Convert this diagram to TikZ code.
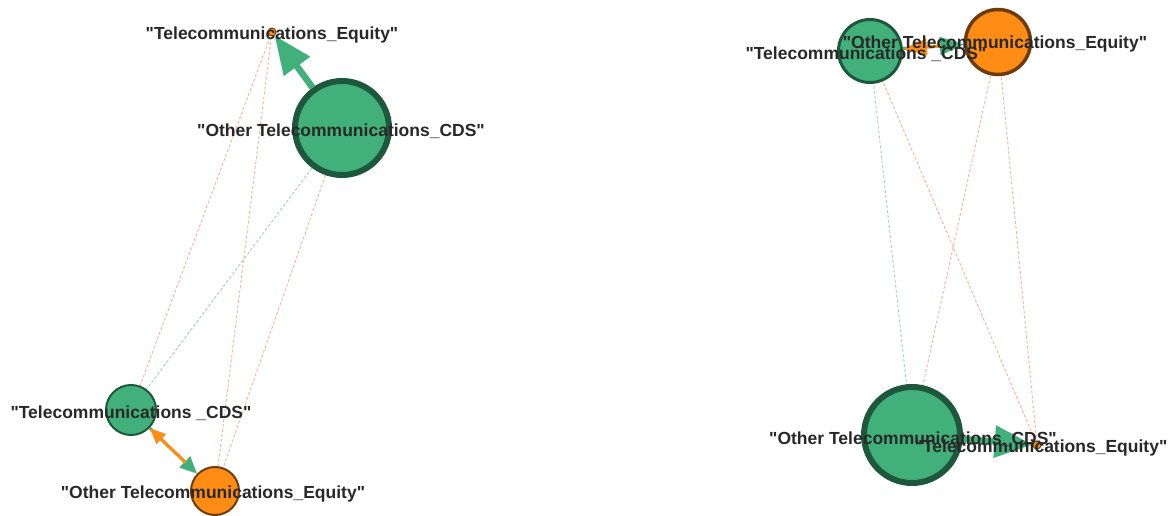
\documentclass[tikz,border=0pt]{standalone}
\usepackage{fontspec}
\setmainfont{Liberation Sans}[Ligatures=TeXOff]
\usetikzlibrary{arrows.meta}
\pgfdeclarelayer{paper}
\pgfdeclarelayer{edges}
\pgfsetlayers{paper,edges,main}
\definecolor{cdsfill}{RGB}{66,176,122}
\definecolor{cdsline}{RGB}{30,88,60}
\definecolor{eqfill}{RGB}{255,140,20}
\definecolor{eqline}{RGB}{110,60,10}
\definecolor{eqdash}{RGB}{248,178,150}
\definecolor{cdsdash}{RGB}{160,214,186}
\definecolor{labtext}{RGB}{40,40,40}
\begin{document}
\begin{tikzpicture}[x=1pt,y=-1pt,
  vert/.style={circle,inner sep=0pt},
  cds/.style={vert,fill=cdsfill,draw=cdsline},
  eq/.style={vert,fill=eqfill,draw=eqline},
  lab/.style={font=\bfseries\fontsize{17.5}{20}\selectfont,text=labtext,inner sep=0pt},
  eqweak/.style={draw=eqdash,line width=0.9pt,dash pattern=on 3pt off 2pt},
  cdsweak/.style={draw=cdsdash,line width=0.9pt,dash pattern=on 3pt off 2pt},
  bigcds/.style={draw=cdsfill,line width=6.5pt,-{Triangle[length=38pt,width=31pt]}},
  midcds/.style={draw=cdsfill,line width=3pt,-{Triangle[length=24pt,width=18pt]}},
  mideq/.style={draw=eqfill,line width=3pt,-{Triangle[length=24pt,width=16pt]}},
  smallcds/.style={draw=cdsfill,line width=3pt,-{Triangle[length=17pt,width=15pt]}},
  smalleq/.style={draw=eqfill,line width=3pt,-{Triangle[length=16pt,width=13pt]}}
]
\begin{pgfonlayer}{paper}
  \fill[white] (0,0) rectangle (1171,516);
\end{pgfonlayer}
\useasboundingbox (0,0) rectangle (1171,516);

% ---- left network ----
\node[eq,line width=1pt,minimum size=8pt] (te) at (272,32) {};
\node[cds,line width=6pt,minimum size=94pt] (otc) at (342,128) {};
\node[cds,line width=2pt,minimum size=50pt] (tc) at (131,410) {};
\node[eq,line width=2pt,minimum size=48pt] (ote) at (215,491) {};

% ---- right network ----
\node[cds,line width=3pt,minimum size=63pt] (tcr) at (870,51) {};
\node[eq,line width=3.5pt,minimum size=65pt] (oter) at (998,42) {};
\node[cds,line width=6pt,minimum size=96pt] (otcr) at (912,435) {};
\node[eq,line width=1pt,minimum size=8pt] (ter) at (1037,445) {};

% weak links, behind the vertices
\begin{pgfonlayer}{edges}
  \draw[eqweak] (te.center) -- (tc.center);
  \draw[eqweak] (te.center) -- (ote.center);
  \draw[eqweak] (otc.center) -- (ote.center);
  \draw[cdsweak] (otc.center) -- (tc.center);
  \draw[cdsweak] (tcr.center) -- (otcr.center);
  \draw[eqweak] (tcr.center) -- (ter.center);
  \draw[eqweak] (oter.center) -- (otcr.center);
  \draw[eqweak] (oter.center) -- (ter.center);
\end{pgfonlayer}

% strong links
\draw[bigcds] (otc) -- (te);
\draw[smallcds] (tc) -- (ote);
\draw[smalleq,shorten <=16pt] (ote) -- (tc);
\draw[midcds] (tcr) -- (oter);
\draw[mideq,shorten <=23pt] (oter) -- (tcr);
\draw[bigcds] (otcr) -- (ter);

% labels
\node[lab] (te-lab) at (272,35) {"Telecommunications\_Equity"};
\node[lab] (otc-lab) at (341,131) {"Other Telecommunications\_CDS"};
\node[lab] (tc-lab) at (131,413) {"Telecommunications \_CDS"};
\node[lab] (ote-lab) at (213,494) {"Other Telecommunications\_Equity"};
\node[lab] (tcr-lab) at (866,54) {"Telecommunications \_CDS"};
\node[lab] (oter-lab) at (995,44) {"Other Telecommunications\_Equity"};
\node[lab] (otcr-lab) at (913,439) {"Other Telecommunications\_CDS"};
\node[lab] (ter-lab) at (1041,448) {"Telecommunications\_Equity"};
\end{tikzpicture}
\end{document}
